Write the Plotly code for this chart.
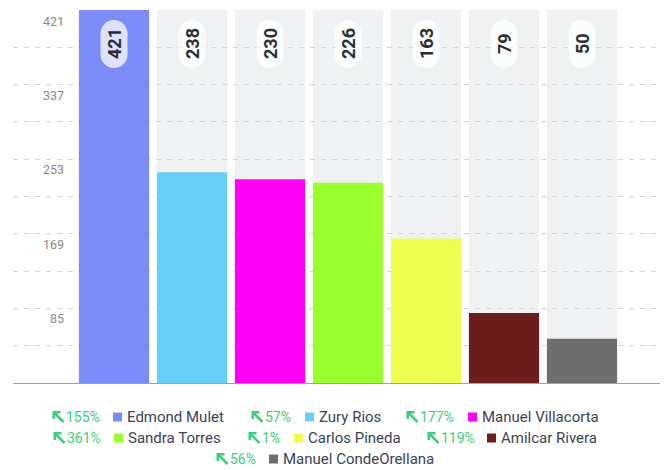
import plotly.graph_objects as go

# ── Data ──────────────────────────────────────────────────────────────────────
candidates = ["Edmond Mulet", "Zury Rios", "Manuel Villacorta", "Sandra Torres",
              "Carlos Pineda", "Amilcar Rivera", "Manuel CondeOrellana"]
votes = [421, 238, 230, 226, 163, 79, 50]
changes = ["155%", "57%", "177%", "361%", "1%", "119%", "56%"]
colors = ["#7B8BF7", "#67CFF5", "#FF00F5", "#9CFF2E", "#EEFF52", "#6B1D1C", "#6E6E6E"]
y_ticklabels = [85, 169, 253, 337, 421]

# ── Layout constants (pixels) ────────────────────────────────────────────────
W, H = 665, 470
ML, MR, MT, MB = 13, 5, 10, 87
PW, PH = W - ML - MR, H - MT - MB
YMAX = max(votes)

# legend placement: (arrow x, square x, row y)
legend_pos = [(53, 113, 417), (252, 305, 417), (407, 468, 417),
              (54, 114, 438), (249, 294, 438), (428, 487, 438),
              (217, 269, 459)]

GREEN = "#3ECF7C"
FONT = "Roboto"


def px_x(px):
    return (px - ML) / PW


def px_y(py):
    return (H - MB - py) / PH


def pill_path(w, h, cy):
    r = w / 2
    k = 0.5523 * r
    top, bot = cy + h / 2, cy - h / 2
    return (f"M {-r},{top - r} C {-r},{top - r + k} {-k},{top} 0,{top} "
            f"C {k},{top} {r},{top - r + k} {r},{top - r} "
            f"L {r},{bot + r} C {r},{bot + r - k} {k},{bot} 0,{bot} "
            f"C {-k},{bot} {-r},{bot + r - k} {-r},{bot + r} Z")


# north-west arrow, drawn in pixels relative to its top-left corner
ARROW_PATH = "M 7.5,-0.8 L 0.8,-0.8 L 0.8,-7.5 M 1.2,-1.2 L 10.5,-10.5"

xs = list(range(len(candidates)))
fig = go.Figure()

# grey track behind every bar
fig.add_trace(go.Bar(x=xs, y=[YMAX] * len(xs), width=0.9,
                     marker=dict(color="rgba(210,214,222,0.35)", line_width=0),
                     hoverinfo="skip", showlegend=False))
fig.add_trace(go.Bar(x=xs, y=votes, width=0.9,
                     marker=dict(color=colors, line_width=0),
                     customdata=candidates,
                     hovertemplate="%{customdata}: %{y}<extra></extra>",
                     showlegend=False))

shapes, annotations = [], []

# value pills at the top of each track
for x, v in zip(xs, votes):
    shapes.append(dict(type="path", xref="x", yref="y", xsizemode="pixel", ysizemode="pixel",
                       xanchor=x, yanchor=YMAX, path=pill_path(27, 48, -34),
                       fillcolor="rgba(255,255,255,0.75)", line_width=0, layer="above"))
    annotations.append(dict(x=x, y=YMAX, yshift=-34, text=f"<b>{v}</b>", showarrow=False,
                            textangle=-90, font=dict(family=FONT, size=18, color="#2B2F33")))

# y tick labels sit just below their gridline
for t in y_ticklabels:
    annotations.append(dict(x=px_x(66), xref="paper", y=t, yref="y", yshift=-11,
                            xanchor="right", text=str(t), showarrow=False,
                            font=dict(family=FONT, size=12.5, color="#8A8A8A")))

# custom legend: arrow + change %, colour square, name
for (axp, sx, ry), name, pct, col in zip(legend_pos, candidates, changes, colors):
    shapes.append(dict(type="path", xref="paper", yref="paper", xsizemode="pixel",
                       ysizemode="pixel", xanchor=px_x(axp), yanchor=px_y(ry - 5.5),
                       path=ARROW_PATH, line=dict(color=GREEN, width=2.6),
                       fillcolor="rgba(0,0,0,0)"))
    annotations.append(dict(x=px_x(axp + 11), y=px_y(ry), xref="paper", yref="paper",
                            xanchor="left", yanchor="middle", showarrow=False, text=pct,
                            font=dict(family=FONT, size=14, color=GREEN)))
    shapes.append(dict(type="rect", xref="paper", yref="paper",
                       x0=px_x(sx), x1=px_x(sx + 9), y0=px_y(ry + 4.5), y1=px_y(ry - 4.5),
                       fillcolor=col, line_width=0))
    annotations.append(dict(x=px_x(sx + 12), y=px_y(ry), xref="paper", yref="paper",
                            xanchor="left", yanchor="middle", showarrow=False, text=name,
                            font=dict(family=FONT, size=15, color="#3C4257")))

fig.update_layout(
    width=W, height=H,
    margin=dict(l=ML, r=MR, t=MT, b=MB),
    barmode="overlay",
    plot_bgcolor="white", paper_bgcolor="white",
    shapes=shapes, annotations=annotations,
    showlegend=False,
    font=dict(family=FONT),
)
fig.update_xaxes(range=[-1.295, 7.0], showgrid=False, zeroline=False, showticklabels=False,
                 showline=True, linecolor="#A0A0A0", linewidth=1, ticks="")
fig.update_yaxes(range=[0, YMAX], tickvals=[YMAX * k / 10 for k in range(1, 11)],
                 showticklabels=False, zeroline=False, showline=False, ticks="",
                 showgrid=True, gridcolor="#D4D4D4", gridwidth=1, griddash="5px,6px")

fig.write_html("out.html", config={"displayModeBar": False},
               post_script="document.body.style.margin='0';")
